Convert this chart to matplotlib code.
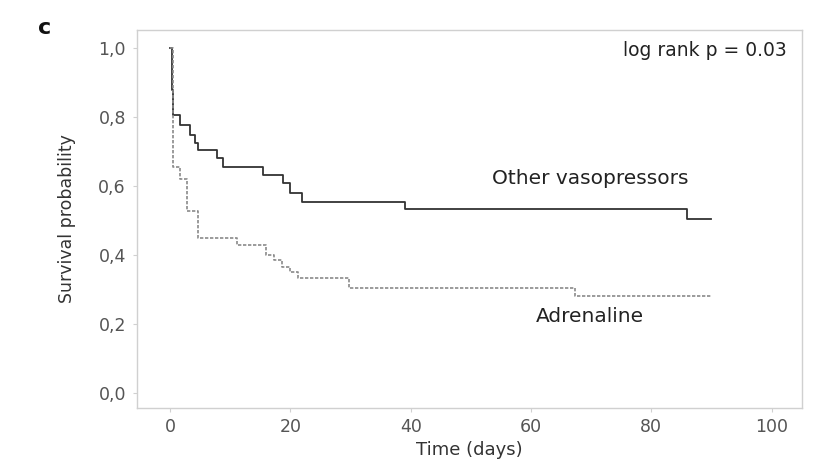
import matplotlib.pyplot as plt

# Kaplan-Meier step data
other_t = [0, 0.33, 0.5, 1.7, 3.3, 4.15, 4.65, 7.8, 8.8, 15.4, 18.8, 20.0, 22.0, 39.0, 86.0, 90.0]
other_s = [1.0, 0.878, 0.806, 0.777, 0.748, 0.725, 0.704, 0.68, 0.655, 0.632, 0.609, 0.58, 0.553, 0.533, 0.505, 0.505]

adr_t = [0, 0.5, 1.7, 2.8, 4.7, 11.1, 16.0, 17.3, 18.6, 20.0, 21.3, 29.7, 67.3, 90.0]
adr_s = [1.0, 0.655, 0.62, 0.527, 0.45, 0.43, 0.40, 0.385, 0.365, 0.35, 0.335, 0.305, 0.28, 0.28]

yticks = [0.0, 0.2, 0.4, 0.6, 0.8, 1.0]
ytick_labels = ["0,0", "0,2", "0,4", "0,6", "0,8", "1,0"]
xticks = [0, 20, 40, 60, 80, 100]


def main():
    fig = plt.figure(figsize=(8.18, 4.66), dpi=100)
    ax = fig.add_axes([0.1675, 0.1245, 0.8125, 0.8111])

    ax.step(other_t, other_s, where="post", color="#333333", lw=1.3)
    ax.step(adr_t, adr_s, where="post", color="#8a8a8a", lw=1.2,
            linestyle=(0, (2, 1)))

    ax.set_xlim(-5.5, 105)
    ax.set_ylim(-0.043, 1.052)
    ax.set_xticks(xticks)
    ax.set_yticks(yticks)
    ax.set_yticklabels(ytick_labels)

    for s in ax.spines.values():
        s.set_color("#d0d0d0")
        s.set_linewidth(1.0)
    ax.tick_params(colors="#d0d0d0", labelcolor="#555555", labelsize=12.5,
                   length=3)
    ax.tick_params(axis="x", pad=4)
    ax.tick_params(axis="y", pad=5)

    ax.set_xlabel("Time (days)", fontsize=13, color="#333333")
    ax.xaxis.set_label_coords(0.5, -0.088)
    ax.set_ylabel("Survival probability", fontsize=12.5, color="#333333")
    ax.yaxis.set_label_coords(-0.092, 0.5)

    ax.text(69.8, 0.623, "Other vasopressors", fontsize=14.5, color="#222222",
            ha="center", va="center")
    ax.text(69.8, 0.223, "Adrenaline", fontsize=14.5, color="#222222",
            ha="center", va="center")
    ax.text(102.5, 0.994, "log rank p = 0.03", fontsize=13.5, color="#222222",
            ha="right", va="center")

    fig.text(0.054, 0.94, "c", fontsize=16, fontweight="bold", color="#111111",
             ha="center", va="center")

    fig.savefig("out.png", dpi=100)


if __name__ == "__main__":
    main()
